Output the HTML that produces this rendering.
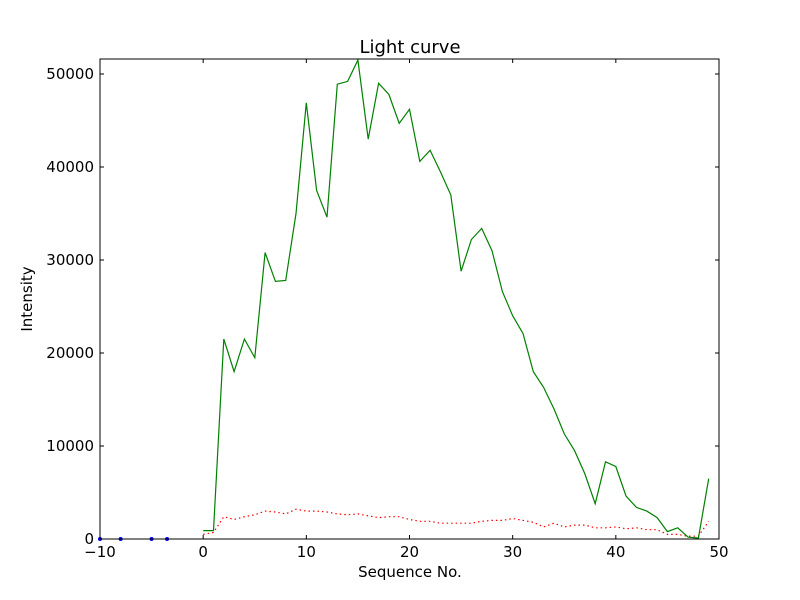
<!DOCTYPE html>
<html><head><meta charset="utf-8"><style>body{margin:0;background:#fff}svg{display:block;font-family:"DejaVu Sans","Liberation Sans",sans-serif}</style></head>
<body>
<svg id="s" width="800" height="600" viewBox="0 0 800 600">
<rect width="800" height="600" fill="#fff"/>
<g id="d"></g>
<rect x="100" y="59" width="619" height="480" fill="none" stroke="#000" stroke-width="1"/>
<g id="t" font-size="15" fill="#000"></g>
<text x="410" y="53" font-size="18" text-anchor="middle">Light curve</text>
<text x="410" y="577" font-size="15" text-anchor="middle">Sequence No.</text>
<text transform="translate(32,299) rotate(-90)" font-size="15" text-anchor="middle">Intensity</text>
</svg>
<script>
var X=function(v){return 100+(v+10)*619/60},Y=function(v){return 539-v*480/51613};
var g=[900,900,21500,18000,21500,19500,30800,27700,27800,35000,46900,37500,34600,48900,49200,51500,43000,49000,47800,44700,46200,40600,41800,39500,37000,28800,32200,33400,31000,26600,24000,22100,18000,16300,14000,11300,9500,7000,3800,8300,7800,4600,3400,3000,2300,800,1200,200,100,6500];
var r=[500,700,2400,2100,2400,2600,3000,2900,2700,3200,3000,3000,2900,2700,2600,2700,2500,2300,2400,2400,2100,1900,1900,1700,1700,1700,1700,1900,2000,2000,2200,2000,1800,1300,1700,1300,1500,1500,1200,1200,1300,1100,1200,1000,1000,500,500,300,300,1900];
function pl(a){return a.map(function(v,i){return X(i).toFixed(1)+","+Y(v).toFixed(1)}).join(" ")}
var h='<polyline points="'+pl(r)+'" fill="none" stroke="#f00" stroke-width="1.2" stroke-dasharray="1.5,3"/>';
h+='<polyline points="'+pl(g)+'" fill="none" stroke="#008000" stroke-width="1.2"/>';
[-10,-8,-5,-3.5].forEach(function(x){h+='<circle cx="'+X(x)+'" cy="539" r="2" fill="#00f"/>'});
document.getElementById('d').innerHTML=h;
var t='';
for(var x=-10;x<=50;x+=10){var px=X(x);t+='<line x1="'+px+'" y1="539" x2="'+px+'" y2="535" stroke="#000"/><line x1="'+px+'" y1="59" x2="'+px+'" y2="63" stroke="#000"/><text x="'+px+'" y="557" text-anchor="middle">'+(x<0?'\u2212'+(-x):x)+'</text>';}
for(var y=0;y<=50000;y+=10000){var py=Y(y);t+='<line x1="100" y1="'+py+'" x2="104" y2="'+py+'" stroke="#000"/><line x1="719" y1="'+py+'" x2="715" y2="'+py+'" stroke="#000"/><text x="94" y="'+(py+5)+'" text-anchor="end">'+y+'</text>';}
document.getElementById('t').innerHTML=t;
</script>
</body></html>
